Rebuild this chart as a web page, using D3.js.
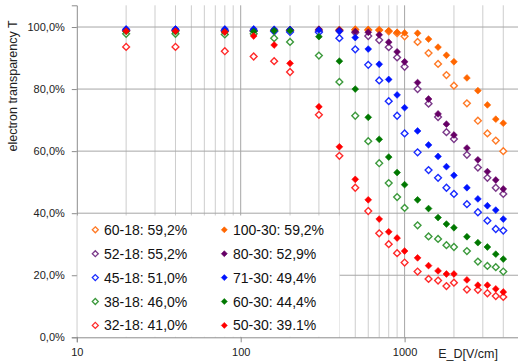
<!DOCTYPE html>
<html>
<head>
<meta charset="utf-8">
<script src="https://cdn.jsdelivr.net/npm/d3@7"></script>
<style>
  body { margin: 0; background: #fff; }
  svg { display: block; font-family: "Liberation Sans", Arial, sans-serif; }
</style>
</head>
<body>
<svg id="chart" width="518" height="364"></svg>
<script>
// drift field E_D [V/cm], shared by all series
var eField = [20, 40, 80, 120, 160, 200, 300, 400, 500, 600, 700, 800, 900, 1000,
              1200, 1400, 1600, 1800, 2000, 2400, 2800, 3200, 3600, 4000];

// electron transparency T [%]
var t60_18 = [98.9, 98.9, 98.8, 98.8, 98.8, 98.9, 99.0, 99.0, 99.1, 99.0, 99.0, 98.6, 98.0, 97.0,
              95.2, 91.6, 88.1, 84.5, 81.1, 75.4, 69.8, 65.7, 63.4, 60.0];
var t100_30 = [99.0, 99.0, 99.0, 99.0, 99.0, 99.1, 99.2, 99.2, 99.3, 99.2, 99.0, 98.8, 98.3, 98.1,
               98.0, 96.1, 93.5, 90.9, 88.8, 83.6, 79.5, 74.9, 70.3, 69.0];
var t52_18 = [98.8, 98.8, 98.7, 98.7, 98.7, 98.8, 98.6, 98.8, 98.2, 97.1, 95.8, 93.5, 90.2, 87.2,
              80.0, 75.3, 71.0, 66.1, 63.9, 58.8, 54.7, 51.4, 48.2, 46.2];
var t80_30 = [99.2, 99.2, 99.1, 99.1, 99.1, 99.2, 99.3, 99.0, 98.5, 98.3, 97.5, 95.1, 92.0, 88.8,
              82.1, 76.8, 72.0, 68.7, 65.2, 61.0, 57.2, 53.4, 50.7, 47.8];
var t45_18 = [99.0, 99.0, 98.8, 98.8, 98.6, 98.4, 98.3, 96.4, 92.8, 87.8, 82.8, 76.1, 71.4, 65.7,
              59.6, 53.9, 51.4, 48.2, 46.2, 42.9, 40.3, 37.6, 34.9, 34.4];
var t71_30 = [99.4, 99.4, 99.4, 99.4, 99.3, 99.2, 99.0, 98.6, 96.6, 92.9, 88.0, 83.1, 78.1, 74.0,
              66.5, 62.0, 58.3, 55.0, 52.2, 48.2, 44.6, 42.4, 41.0, 38.1];
var t38_18 = [97.8, 97.8, 97.6, 97.8, 96.4, 95.2, 90.8, 82.3, 71.4, 63.2, 56.1, 49.7, 45.2, 41.7,
              36.1, 32.5, 31.7, 29.7, 29.1, 27.8, 24.4, 23.0, 22.6, 21.2];
var t60_30 = [98.6, 98.5, 98.4, 98.6, 98.8, 98.8, 96.9, 89.0, 80.0, 70.9, 63.8, 58.1, 53.1, 49.2,
              44.3, 41.5, 38.6, 36.5, 35.3, 32.4, 30.5, 29.1, 26.8, 25.2];
var t32_18 = [93.6, 93.6, 92.2, 90.5, 89.0, 85.5, 71.7, 58.5, 48.2, 40.7, 33.5, 30.0, 27.1, 24.1,
              21.2, 18.8, 18.3, 16.5, 17.6, 15.4, 15.3, 14.2, 13.3, 13.0];
var t50_30 = [98.7, 98.7, 98.4, 97.1, 94.2, 88.3, 74.3, 61.4, 50.9, 44.3, 38.1, 34.0, 32.0, 27.8,
              25.6, 23.1, 21.4, 20.4, 20.4, 18.5, 16.8, 16.8, 15.6, 14.6];

var seriesLabels = ["60-18: 59,2%", "100-30: 59,2%", "52-18: 55,2%", "80-30: 52,9%",
                    "45-18: 51,0%", "71-30: 49,4%", "38-18: 46,0%", "60-30: 44,4%",
                    "32-18: 41,0%", "50-30: 39.1%"];
var seriesValues = [t60_18, t100_30, t52_18, t80_30, t45_18, t71_30, t38_18, t60_30, t32_18, t50_30];
var yTicks = [0, 20, 40, 60, 80, 100];
var xTicks = [10, 100, 1000];

// styling per series: open diamonds for -18, filled for -30
var colors = ["#ff7a26", "#ff6600", "#7b3a8a", "#660066", "#1a2cff", "#0014ff",
              "#3d9a3d", "#007800", "#ff2a2a", "#ff0000"];
var isOpen = [true, false, true, false, true, false, true, false, true, false];

var svg = d3.select("#chart");
var plotLeft = 76.8, plotBottom = 337.3, plotTop = 5.3;

var x = d3.scaleLog().domain([10, 5000]).range([plotLeft, plotLeft + 163.9 * Math.log10(500)]);
var y = d3.scaleLinear().domain([0, 107]).range([plotBottom, plotTop]);

var fmt = function (d) { return d3.format(".1f")(d).replace(".", ",") + "%"; };

// vertical grid
var minor = [];
[10, 100, 1000].forEach(function (dec) {
    for (var k = 2; k <= 9; k++) minor.push(dec * k);
});
minor = minor.filter(function (v) { return v < 5000; });

svg.append("g").selectAll("line")
    .data(minor)
    .enter().append("line")
    .attr("x1", function (d) { return x(d); }).attr("x2", function (d) { return x(d); })
    .attr("y1", plotTop).attr("y2", plotBottom)
    .attr("stroke", "#cdcdcd").attr("stroke-width", 1);

svg.append("g").selectAll("line")
    .data([100, 1000])
    .enter().append("line")
    .attr("x1", function (d) { return x(d); }).attr("x2", function (d) { return x(d); })
    .attr("y1", plotTop).attr("y2", plotBottom)
    .attr("stroke", "#a6a6a6").attr("stroke-width", 1);

// horizontal grid
svg.append("g").selectAll("line")
    .data(yTicks.filter(function (d) { return d > 0; }))
    .enter().append("line")
    .attr("x1", plotLeft).attr("x2", 518)
    .attr("y1", function (d) { return y(d); }).attr("y2", function (d) { return y(d); })
    .attr("stroke", "#a6a6a6").attr("stroke-width", 1);

// axes
var yAxis = svg.append("g")
    .attr("transform", "translate(" + plotLeft + ",0)")
    .call(d3.axisLeft(y).tickValues(yTicks).tickFormat(fmt).tickSize(5).tickPadding(7));
var xAxis = svg.append("g")
    .attr("transform", "translate(0," + plotBottom + ")")
    .call(d3.axisBottom(x).tickValues(xTicks).tickFormat(d3.format("d")).tickSize(5).tickPadding(6));

[yAxis, xAxis].forEach(function (a) {
    a.select(".domain").attr("stroke", "#8c8c8c");
    a.selectAll(".tick line").attr("stroke", "#8c8c8c");
    a.selectAll("text").attr("font-size", 11).attr("fill", "#222")
        .attr("font-family", "'Liberation Sans', Arial, sans-serif");
});

svg.append("text")
    .attr("x", 468).attr("y", 357.5)
    .attr("text-anchor", "middle")
    .attr("font-size", 12.5).attr("fill", "#222")
    .text("E_D[V/cm]");

svg.append("text")
    .attr("transform", "translate(17,86) rotate(-90)")
    .attr("text-anchor", "middle")
    .attr("font-size", 12.5).attr("fill", "#222")
    .text("electron transparency T");

// markers
var diamond = function (r) { return "M0," + (-r) + "L" + r + ",0L0," + r + "L" + (-r) + ",0Z"; };

seriesValues.forEach(function (vals, i) {
    svg.append("g").selectAll("path")
        .data(vals.map(function (v, j) { return { x: eField[j], y: v }; }))
        .enter().append("path")
        .attr("transform", function (d) { return "translate(" + x(d.x) + "," + y(d.y) + ")"; })
        .attr("d", diamond(3.4))
        .attr("fill", isOpen[i] ? "#fff" : colors[i])
        .attr("stroke", colors[i])
        .attr("stroke-width", isOpen[i] ? 1.4 : 0.6);
});

// legend
var legend = svg.append("g");
legend.append("rect")
    .attr("x", plotLeft + 0.5).attr("y", 215.5)
    .attr("width", 339.5 - plotLeft - 0.5).attr("height", plotBottom - 216)
    .attr("fill", "#fff");

seriesLabels.forEach(function (label, i) {
    var col = i % 2, row = Math.floor(i / 2);
    var mx = col === 0 ? 95.3 : 224.3;
    var my = 229.8 + row * 23.9;
    legend.append("path")
        .attr("transform", "translate(" + mx + "," + my + ")")
        .attr("d", diamond(3))
        .attr("fill", isOpen[i] ? "#fff" : colors[i])
        .attr("stroke", colors[i])
        .attr("stroke-width", isOpen[i] ? 1.3 : 0.6);
    legend.append("text")
        .attr("x", mx + 8.7).attr("y", my + 5)
        .attr("font-size", 14).attr("fill", "#111")
        .text(label);
});
</script>
</body>
</html>
